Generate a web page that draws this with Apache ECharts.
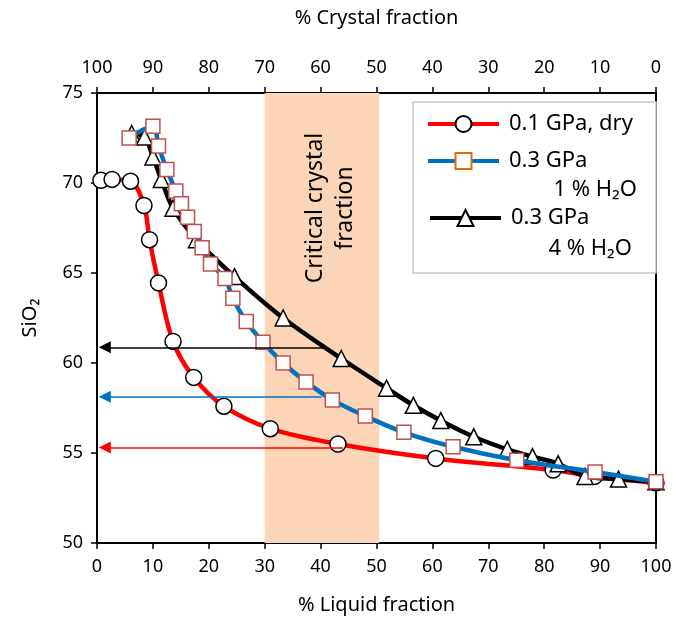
<!DOCTYPE html>
<html>
<head>
<meta charset="utf-8">
<script src="https://cdn.jsdelivr.net/npm/echarts@6/dist/echarts.min.js"></script>
<style>
html, body { margin: 0; padding: 0; background: #fff; }
#chart { width: 684px; height: 617px; }
</style>
</head>
<body>
<div id="chart"></div>
<script>
// [% liquid fraction, SiO2]
var dry01 = [[0.7, 70.15], [2.7, 70.2], [6.0, 70.1], [8.4, 68.75], [9.4, 66.85], [11.0, 64.45], [13.6, 61.2], [17.3, 59.2], [22.7, 57.6], [31.0, 56.35], [43.1, 55.5], [60.6, 54.7], [81.6, 54.05], [89.0, 53.7], [100, 53.35]]
var wet1 = [[5.75, 72.5], [10.0, 73.15], [11.0, 72.05], [12.5, 70.75], [14.1, 69.55], [15.1, 68.85], [16.2, 68.1], [17.4, 67.3], [18.8, 66.4], [20.3, 65.5], [22.9, 64.7], [24.3, 63.6], [26.7, 62.3], [29.7, 61.15], [33.3, 60.0], [37.4, 58.95], [42.1, 57.95], [48.0, 57.05], [54.9, 56.15], [63.7, 55.35], [75.1, 54.6], [89.1, 53.95], [100, 53.4]]
var wet4 = [[6.2, 72.75], [8.5, 72.55], [10.0, 71.45], [11.5, 70.2], [13.6, 68.6], [17.8, 66.85], [24.6, 64.8], [33.3, 62.5], [43.7, 60.25], [51.8, 58.6], [56.6, 57.65], [61.5, 56.8], [67.4, 55.9], [73.4, 55.2], [77.9, 54.8], [82.5, 54.4], [87.3, 53.7], [93.3, 53.55], [100, 53.4]]

// critical crystal fraction band (% liquid)
var band = [30, 50.5]
// arrows: SiO2 level and where they start (% liquid); they end at the y axis
var arrowY = { dry: 55.3, wet1: 58.13, wet4: 60.87 }
var arrowFrom = { dry: 44, wet1: 40.2, wet4: 40.8 }
var arrowTip = 1.4

var font = 'Noto Sans'

function arrow (key, color) {
  return {
    silent: true,
    symbol: ['none', 'triangle'],
    symbolSize: 12,
    label: { show: false },
    emphasis: { disabled: true },
    lineStyle: { color: color, width: 1.5, type: 'solid' },
    itemStyle: { color: color },
    data: [[{ coord: [arrowFrom[key], arrowY[key]] }, { coord: [arrowTip, arrowY[key]] }]]
  }
}

var legendText = { fontSize: 22, color: '#000', padding: [0, 0, 0, 5] }

var chart = echarts.init(document.getElementById('chart'))
chart.setOption({
  animation: false,
  textStyle: { fontFamily: font },
  grid: { left: 97, right: 28, top: 93, bottom: 74, outerBoundsMode: 'none', containLabel: false },
  legend: [
    {
      data: ['0.1 GPa, dry'],
      left: 426, top: 113, padding: 0,
      itemWidth: 71, itemHeight: 20,
      selectedMode: false,
      lineStyle: { width: 4 },
      formatter: function () { return '0.1 GPa, dry' },
      textStyle: legendText
    },
    {
      data: [{ name: '0.3 GPa 1% H2O', itemStyle: { borderColor: '#E36C0A' } }],
      left: 426, top: 150, padding: 0,
      itemWidth: 71, itemHeight: 20,
      selectedMode: false,
      lineStyle: { width: 4 },
      formatter: function () { return '0.3 GPa' },
      textStyle: legendText
    },
    {
      data: ['0.3 GPa 4% H2O'],
      left: 428, top: 207, padding: 0,
      itemWidth: 71, itemHeight: 20,
      selectedMode: false,
      lineStyle: { width: 4 },
      formatter: function () { return '0.3 GPa' },
      textStyle: legendText
    }
  ],
  graphic: [
    {
      type: 'rect', z: 3,
      shape: { x: 413, y: 102, width: 243, height: 171 },
      style: { fill: '#fff', stroke: '#C8C8C8', lineWidth: 1.5 }
    },
    {
      type: 'text', z: 5, x: 637, y: 190,
      style: { text: '1 % H₂O', font: '22px "Noto Sans"', fill: '#000', align: 'right', verticalAlign: 'middle', textAlign: 'right', textVerticalAlign: 'middle' }
    },
    {
      type: 'text', z: 5, x: 632, y: 249,
      style: { text: '4 % H₂O', font: '22px "Noto Sans"', fill: '#000', align: 'right', verticalAlign: 'middle', textAlign: 'right', textVerticalAlign: 'middle' }
    },
    {
      type: 'text', z: 5, x: 330, y: 208, rotation: Math.PI / 2,
      style: { text: 'Critical crystal\nfraction', font: '23px "Noto Sans"', lineHeight: 30, fill: '#000', align: 'center', verticalAlign: 'middle', textAlign: 'center', textVerticalAlign: 'middle' }
    }
  ],
  xAxis: [
    {
      type: 'value', min: 0, max: 100, interval: 10, position: 'bottom',
      name: '% Liquid fraction', nameLocation: 'middle', nameGap: 52,
      nameTextStyle: { fontSize: 20, color: '#000' },
      axisLine: { onZero: false, lineStyle: { color: '#000', width: 2 } },
      axisTick: { inside: false, length: 6, lineStyle: { color: '#000', width: 1.5 } },
      axisLabel: { fontSize: 18, color: '#000', margin: 15 },
      splitLine: { show: false }
    },
    {
      type: 'value', min: 0, max: 100, interval: 10, position: 'top', inverse: true,
      name: '% Crystal fraction', nameLocation: 'middle', nameGap: 65,
      nameTextStyle: { fontSize: 20, color: '#000' },
      axisLine: { onZero: false, lineStyle: { color: '#000', width: 2 } },
      axisTick: { inside: false, length: 6, lineStyle: { color: '#000', width: 1.5 } },
      axisLabel: { fontSize: 18, color: '#000', margin: 16 },
      splitLine: { show: false }
    }
  ],
  yAxis: [
    {
      type: 'value', min: 50, max: 75, interval: 5, position: 'left',
      name: 'SiO₂', nameLocation: 'middle', nameGap: 57,
      nameTextStyle: { fontSize: 20, color: '#000' },
      axisLine: { show: true, onZero: false, lineStyle: { color: '#000', width: 2 } },
      axisTick: { show: true, inside: false, length: 6, lineStyle: { color: '#000', width: 1.5 } },
      axisLabel: { fontSize: 18, color: '#000', margin: 14 },
      splitLine: { show: false }
    },
    {
      type: 'value', min: 50, max: 75, position: 'right',
      axisLine: { show: true, onZero: false, lineStyle: { color: '#000', width: 2 } },
      axisTick: { show: false },
      axisLabel: { show: false },
      splitLine: { show: false }
    }
  ],
  series: [
    {
      // only carries the shaded band
      type: 'line', name: 'band', data: [], z: 1,
      markArea: {
        silent: true,
        itemStyle: { color: '#FBD5B5' },
        data: [[{ xAxis: band[0] }, { xAxis: band[1] }]]
      }
    },
    {
      type: 'line', name: '0.1 GPa, dry', data: dry01, z: 2,
      smooth: 0.35,
      symbol: 'circle', symbolSize: 16,
      lineStyle: { color: '#FF0000', width: 4.5 },
      itemStyle: { color: '#fff', borderColor: '#000', borderWidth: 1.5 },
      markLine: arrow('dry', '#FF0000')
    },
    {
      type: 'line', name: '0.3 GPa 4% H2O', data: wet4, z: 3,
      smooth: 0.35,
      symbol: 'triangle', symbolSize: 16,
      lineStyle: { color: '#000', width: 4.5 },
      itemStyle: { color: '#fff', borderColor: '#000', borderWidth: 1.5 },
      markLine: arrow('wet4', '#000')
    },
    {
      type: 'line', name: '0.3 GPa 1% H2O', data: wet1, z: 4,
      smooth: 0.35,
      symbol: 'rect', symbolSize: 14,
      lineStyle: { color: '#0070C0', width: 4.5 },
      itemStyle: { color: '#fff', borderColor: '#C0504D', borderWidth: 1.5 },
      markLine: arrow('wet1', '#0070C0')
    }
  ]
})
</script>
</body>
</html>
